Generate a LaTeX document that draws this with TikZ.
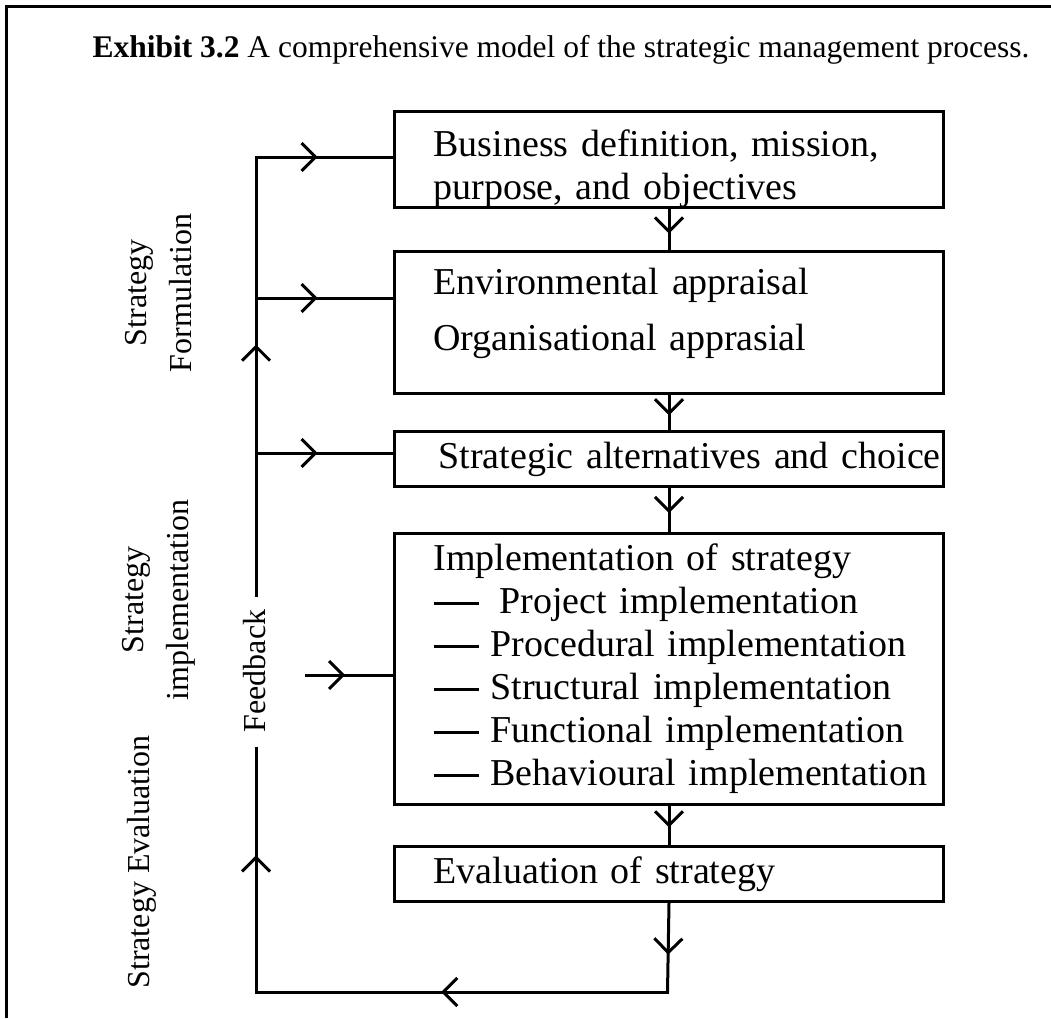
\documentclass[tikz,border=0pt]{standalone}
\usepackage{fontspec}
\setmainfont{Liberation Serif}
\usetikzlibrary{arrows.meta,decorations.markings,calc}
\tikzset{
  box/.style={draw, line width=3pt, anchor=north west, inner xsep=39pt, inner ysep=0pt,
    align=left, font=\fontsize{38}{43}\selectfont},
  conn/.style={line width=3pt, line cap=rect},
  midarr/.style={postaction={decorate}, decoration={markings,
    mark=at position #1 with {\arrow[line width=3pt]{Straight Barb[length=14pt,width=28pt]}}}},
  side/.style={rotate=90, align=center, font=\fontsize{32}{45}\selectfont},
}
\newcommand{\itemdash}{\rule[8pt]{45pt}{3pt}\hspace{12pt}}
\begin{document}
\begin{tikzpicture}[x=1pt,y=-1pt]
\useasboundingbox (0,0) rectangle (1051,1018);
% frame
\draw[line width=3pt] (6,1018) -- (6,6) -- (1051,6);
% title
\node (title) at (561,50) {\fontsize{31.5}{36}\selectfont\textbf{Exhibit 3.2} A comprehensive model of the strategic management process.};
% boxes
\node[box, text width=471pt, minimum height=96pt] (b1) at (393,110)
  {\raisebox{-16pt}[0pt][0pt]{\begin{tabular}{@{}l@{}}Business definition, mission,\\purpose, and objectives\end{tabular}}};
\node[box, text width=471pt, minimum height=142pt] (b2) at (393,250)
  {\raisebox{2pt}[0pt][0pt]{\begin{tabular}{@{}l@{}}Environmental appraisal\\[13pt]Organisational apprasial\end{tabular}}};
\node[box, inner xsep=44pt, text width=461pt, minimum height=55pt] (b3) at (393,430)
  {\mbox{Strategic alternatives and choice}};
\node[box, text width=471pt, minimum height=271pt] (b4) at (393,532)
  {\begin{tabular}{@{}l@{}}Implementation of strategy\\
  \itemdash\hspace{9pt}Project implementation\\
  \itemdash Procedural implementation\\
  \itemdash Structural implementation\\
  \itemdash Functional implementation\\
  \itemdash Behavioural implementation\end{tabular}};
\node[box, text width=471pt, minimum height=55pt] (b5) at (393,845)
  {\mbox{Evaluation of strategy}};
% side labels
\node[side] (sf) at (159,293) {Strategy\\Formulation};
\node[side] (si) at (159,600) {Strategy\\implementation};
\node[side] (se) at (142,862) {Strategy Evaluation};
\node[side] (fb) at (255,671) {Feedback};
% coordinates
\coordinate (j1) at (256,157);
\coordinate (j2) at (256,298);
\coordinate (j3) at (256,453);
\coordinate (g1) at (256,595);
\coordinate (g2) at (256,748);
\coordinate (f4) at (306,675);
\coordinate (c1) at (667.5,992);
\coordinate (c2) at (256,992);
% flow between boxes
\draw[conn, midarr=0.6] (b1.south) -- (b2.north);
\draw[conn, midarr=0.58] (b2.south) -- (b3.north);
\draw[conn, midarr=0.57] (b3.south) -- (b4.north);
\draw[conn, midarr=0.55] (b4.south) -- (b5.north);
% feedback loop
\draw[conn, midarr=0.58] (b5.south) -- (c1);
\draw[conn, midarr=0.55] (c1) -- (c2);
\draw[conn, midarr=0.56] (c2) -- (g2);
\draw[conn] (g1) -- (j3);
\draw[conn, midarr=0.7] (j3) -- (j2);
\draw[conn] (j2) -- (j1);
\draw[conn, midarr=0.45] (j1) -- (j1 -| b1.west);
\draw[conn, midarr=0.45] (j2) -- (j2 -| b2.west);
\draw[conn, midarr=0.45] (j3) -- (j3 -| b3.west);
\draw[conn, midarr=0.45] (f4) -- (f4 -| b4.west);
\end{tikzpicture}
\end{document}
